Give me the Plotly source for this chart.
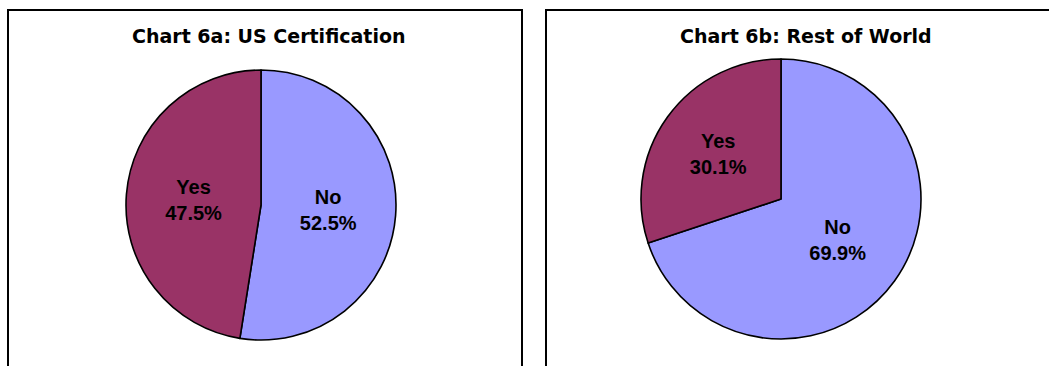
import plotly.graph_objects as go

W, H = 1049, 366

titles = ["Chart 6a: US Certification", "Chart 6b: Rest of World"]
labels = ["No", "Yes"]
us_values = [52.5, 47.5]
row_values = [69.9, 30.1]
colors = ["#9999FF", "#993366"]

def px_x(v):
    return v / W

def px_y(v):
    return 1 - v / H

fig = go.Figure()

pie_boxes = [
    (125, 397, 70, 340),
    (641, 921, 59, 339),
]
for vals, (x0, x1, y0, y1) in zip([us_values, row_values], pie_boxes):
    fig.add_trace(go.Pie(
        labels=labels,
        values=vals,
        sort=False,
        direction="clockwise",
        rotation=0,
        marker=dict(colors=colors, line=dict(color="black", width=1.6)),
        texttemplate="<b>%{label}</b><br><b>%{value:.1f}%</b>",
        textposition="inside",
        insidetextorientation="horizontal",
        textfont=dict(family="Liberation Sans, Arial, sans-serif", size=20, color="black"),
        hoverinfo="label+percent",
        domain=dict(x=[px_x(x0), px_x(x1)], y=[px_y(y1), px_y(y0)]),
        showlegend=False,
    ))

# panel borders
fig.add_shape(type="rect", xref="paper", yref="paper",
              x0=px_x(8), x1=px_x(522), y0=px_y(380), y1=px_y(10),
              line=dict(color="black", width=2), fillcolor="rgba(0,0,0,0)")
fig.add_shape(type="rect", xref="paper", yref="paper",
              x0=px_x(546), x1=px_x(1060), y0=px_y(380), y1=px_y(10),
              line=dict(color="black", width=2), fillcolor="rgba(0,0,0,0)")

for t, cx in zip(titles, [268, 806]):
    fig.add_annotation(text="<b>%s</b>" % t, xref="paper", yref="paper",
                       x=px_x(cx), y=px_y(36), showarrow=False,
                       xanchor="center", yanchor="middle",
                       font=dict(family="DejaVu Sans, Verdana, sans-serif", size=19, color="black"))

fig.update_layout(
    width=W, height=H,
    margin=dict(l=0, r=0, t=0, b=0),
    paper_bgcolor="white",
    plot_bgcolor="white",
)

fig.write_html("out.html")
